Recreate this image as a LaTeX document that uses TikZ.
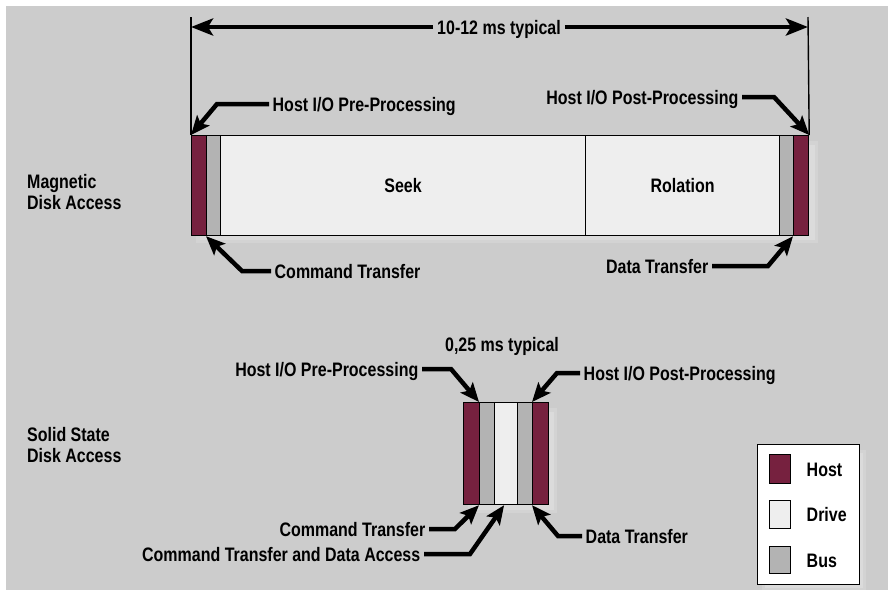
\documentclass[tikz,border=0pt]{standalone}
\usepackage{fontspec}
\setmainfont{Liberation Sans}[FakeStretch=0.82]
\usetikzlibrary{arrows.meta}
\definecolor{bgc}{HTML}{CCCCCC}
\definecolor{shdA}{HTML}{D3D3D3}
\definecolor{shdB}{HTML}{DBDBDB}
\definecolor{host}{HTML}{76213F}
\definecolor{bus}{HTML}{B3B3B3}
\definecolor{drv}{HTML}{EEEEEE}
\tikzset{
  seg/.style={draw=black,line width=1.2pt,inner sep=0pt,anchor=north west,minimum height=#1},
  lab/.style={inner sep=3.5pt,text height=14pt,text depth=0pt,font=\fontsize{19.5}{22}\selectfont\bfseries},
  side/.style={inner sep=0pt,align=left,anchor=north west,font=\fontsize{19.5}{21.5}\selectfont\bfseries},
  conn/.style={line width=4.5pt,line join=miter,-{Stealth[length=19pt,width=16pt,inset=4pt]}},
  thin/.style={line width=1.4pt},
}
\begin{document}
\begin{tikzpicture}[x=1pt,y=-1pt]
\useasboundingbox (0,0) rectangle (888,590);
\fill[bgc] (6,6) rectangle (888,590);

% ---------- magnetic disk bar ----------
\fill[shdA] (196,141) rectangle (818,243);
\fill[shdB] (200,145) rectangle (815,240);
\node[seg=100pt,fill=host,minimum width=15pt] (mh1) at (191,135) {};
\node[seg=100pt,fill=bus,minimum width=14pt] (mh2) at (206,135) {};
\node[seg=100pt,fill=drv,minimum width=365pt,font=\fontsize{19.5}{22}\selectfont\bfseries] (mh3) at (220,135) {Seek};
\node[seg=100pt,fill=drv,minimum width=194pt,font=\fontsize{19.5}{22}\selectfont\bfseries] (mh4) at (585,135) {Rolation};
\node[seg=100pt,fill=bus,minimum width=14pt] (mh5b) at (779,135) {};
\node[seg=100pt,fill=host,minimum width=15pt] (mh5) at (793,135) {};

% dimension
\coordinate (dl0) at (191,17);
\coordinate (dr0) at (808,17);
\draw[thin] (dl0) -- (mh1.north west);
\draw[thin] (dr0) -- (mh5.north east);
\node[lab,inner sep=4pt] (dim) at (499,27) {10-12 ms typical};
\coordinate (dl) at (191,27);
\coordinate (dr) at (808,27);
\draw[conn,-{Stealth[length=22pt,width=17pt,inset=5pt]}] (dim.west) -- (dl);
\draw[conn,-{Stealth[length=22pt,width=17pt,inset=5pt]}] (dim.east) -- (dr);

% labels magnetic
\node[lab,anchor=west] (lPre) at (269,104) {Host I/O Pre-Processing};
\node[lab,anchor=east] (lPost) at (742,97) {Host I/O Post-Processing};
\node[lab,anchor=west] (lCmd) at (271,271) {Command Transfer};
\node[lab,anchor=east] (lData) at (712,266) {Data Transfer};
\draw[conn] (lPre.west) -- (217,104) -- (mh1.north west);
\draw[conn] (lPost.east) -- (774,97) -- (mh5.north east);
\draw[conn] (lCmd.west) -- (242,271) -- (mh2.south west);
\draw[conn] (lData.east) -- (768,266) -- (mh5.south west);

% side labels
\node[side] (sideM) at (27,174) {Magnetic\\Disk Access};
\node[side] (sideS) at (27,427) {Solid State\\Disk Access};

% ---------- SSD bar ----------
\fill[shdA] (468,408) rectangle (557,513);
\fill[shdB] (472,412) rectangle (554,510);
\node[seg=102pt,fill=host,minimum width=16pt] (sh1) at (463,402) {};
\node[seg=102pt,fill=bus,minimum width=15pt] (sh2) at (479,402) {};
\node[seg=102pt,fill=drv,minimum width=23pt] (sh3) at (494,402) {};
\node[seg=102pt,fill=bus,minimum width=15pt] (sh4) at (517,402) {};
\node[seg=102pt,fill=host,minimum width=16pt] (sh5) at (532,402) {};

\node[lab] (sdim) at (502,344) {0,25 ms typical};
\node[lab,anchor=east] (sPre) at (422,369) {Host I/O Pre-Processing};
\node[lab,anchor=west] (sPost) at (580,373) {Host I/O Post-Processing};
\node[lab,anchor=east] (sCmd) at (429,529) {Command Transfer};
\node[lab,anchor=east] (sCDA) at (424,554) {Command Transfer and Data Access};
\node[lab,anchor=west] (sData) at (582,536) {Data Transfer};
\draw[conn] (sPre.east) -- (451,369) -- (sh2.north west);
\draw[conn] (sPost.west) -- (557,373) -- (sh5.north west);
\draw[conn] (sCmd.east) -- (455,529) -- (sh2.south west);
\draw[conn] (sCDA.east) -- (470,554) -- ([xshift=-2pt]sh3.south);
\draw[conn] (sData.west) -- (558,536) -- (sh5.south west);

% ---------- legend ----------
\fill[shdA] (762,450) rectangle (866,590);
\fill[shdB] (765,453) rectangle (863,588);
\node[draw=black,line width=1.2pt,fill=white,minimum width=102pt,minimum height=140pt,anchor=north west,inner sep=0pt] (leg) at (757,444) {};
\node[draw=black,line width=1.2pt,fill=host,minimum width=21pt,minimum height=29pt,anchor=north west,inner sep=0pt] (kHost) at (769,454) {};
\node[draw=black,line width=1.2pt,fill=drv,minimum width=21pt,minimum height=28pt,anchor=north west,inner sep=0pt] (kDrv) at (769,500) {};
\node[draw=black,line width=1.2pt,fill=bus,minimum width=21pt,minimum height=27pt,anchor=north west,inner sep=0pt] (kBus) at (769,546) {};
\node[lab,anchor=west] (tHost) at (803,469) {Host};
\node[lab,anchor=west] (tDrv) at (803,514) {Drive};
\node[lab,anchor=west] (tBus) at (803,560) {Bus};
\end{tikzpicture}
\end{document}
